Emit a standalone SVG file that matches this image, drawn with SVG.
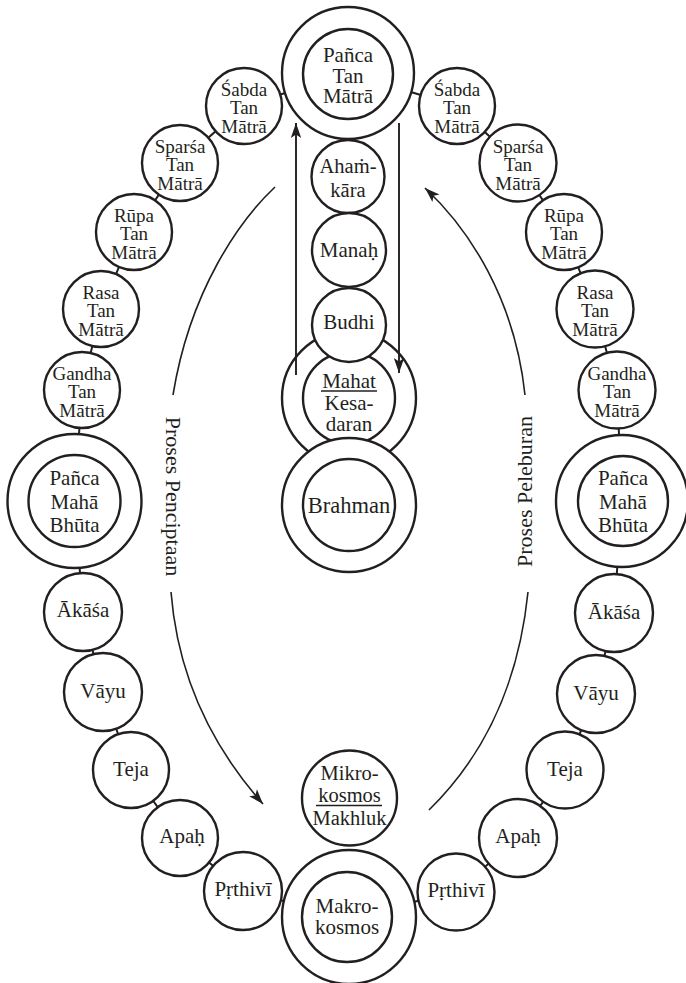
<svg xmlns="http://www.w3.org/2000/svg" width="686" height="983" viewBox="0 0 686 983">
<defs>
<style>
.c{fill:#fff;stroke:#231f20;stroke-width:2.4}
.t{font-family:"Liberation Serif","DejaVu Serif",serif;fill:#231f20;text-anchor:middle}
.s{font-size:19px}
.m{font-size:21px}
.lk{stroke:#231f20;stroke-width:2}
.ar{fill:none;stroke:#231f20;stroke-width:1.6}
.vr{fill:none;stroke:#231f20;stroke-width:1.9}
.ul{stroke:#231f20;stroke-width:1.4}
</style>
<marker id="ah" markerUnits="userSpaceOnUse" markerWidth="17" markerHeight="12" viewBox="-16 -6 17 12" refX="0" refY="0" orient="auto">
<path d="M0,0 L-15,-5.2 L-11.5,0 L-15,5.2 Z" fill="#231f20"/>
</marker>
</defs>
<rect width="686" height="983" fill="#fff"/>

<g id="links">
<polyline class="lk" fill="none" points="348,73 244,106 180,163 134,232 101,309 82,390 74.5,501 83,612 103,692 131,770 180,838 243,891 349,917 456,892 518,838 565,770 596,694 614,613 622,501 617,390 595,309 564,232 518,163 457,106 348,73"/>
</g>

<g id="pancaTan"><circle class="c" cx="348" cy="73" r="66"/><circle class="c" cx="348" cy="74" r="45"/>
<text class="t m"><tspan x="348" y="62">Pañca</tspan><tspan x="348" y="82.5">Tan</tspan><tspan x="348" y="103">Mātrā</tspan></text></g>

<g id="sabdaL"><circle class="c" cx="244" cy="106" r="38"/><text class="t s"><tspan x="244" y="95.5">Śabda</tspan><tspan x="244" y="114">Tan</tspan><tspan x="244" y="132.5">Mātrā</tspan></text></g>
<g id="sparsaL"><circle class="c" cx="180" cy="163" r="38"/><text class="t s"><tspan x="180" y="152.5">Sparśa</tspan><tspan x="180" y="171">Tan</tspan><tspan x="180" y="189.5">Mātrā</tspan></text></g>
<g id="rupaL"><circle class="c" cx="134" cy="232" r="38"/><text class="t s"><tspan x="134" y="221.5">Rūpa</tspan><tspan x="134" y="240">Tan</tspan><tspan x="134" y="258.5">Mātrā</tspan></text></g>
<g id="rasaL"><circle class="c" cx="101" cy="309" r="38"/><text class="t s"><tspan x="101" y="298.5">Rasa</tspan><tspan x="101" y="317">Tan</tspan><tspan x="101" y="335.5">Mātrā</tspan></text></g>
<g id="gandhaL"><circle class="c" cx="82" cy="390" r="38"/><text class="t s"><tspan x="82" y="379.5">Gandha</tspan><tspan x="82" y="398">Tan</tspan><tspan x="82" y="416.5">Mātrā</tspan></text></g>
<g id="pancaMahaL"><circle class="c" cx="74.5" cy="501" r="67"/><circle class="c" cx="74.5" cy="501" r="46"/>
<text class="t m"><tspan x="74.5" y="485">Pañca</tspan><tspan x="74.5" y="508.5">Mahā</tspan><tspan x="74.5" y="532">Bhūta</tspan></text></g>
<g id="akasaL"><circle class="c" cx="83" cy="612" r="39"/><text class="t m" x="83" y="617">Ākāśa</text></g>
<g id="vayuL"><circle class="c" cx="103" cy="692" r="39"/><text class="t m" x="103" y="698">Vāyu</text></g>
<g id="tejaL"><circle class="c" cx="131" cy="770" r="38"/><text class="t m" x="131" y="775.5">Teja</text></g>
<g id="apahL"><circle class="c" cx="180" cy="838" r="38"/><text class="t m" x="182" y="843">Apaḥ</text></g>
<g id="prthiviL"><circle class="c" cx="243" cy="891" r="39"/><text class="t m" x="243" y="896">Pṛthivī</text></g>

<g id="sabdaR"><circle class="c" cx="457" cy="106" r="38"/><text class="t s"><tspan x="457" y="95.5">Śabda</tspan><tspan x="457" y="114">Tan</tspan><tspan x="457" y="132.5">Mātrā</tspan></text></g>
<g id="sparsaR"><circle class="c" cx="518" cy="163" r="38.5"/><text class="t s"><tspan x="518" y="152.5">Sparśa</tspan><tspan x="518" y="171">Tan</tspan><tspan x="518" y="189.5">Mātrā</tspan></text></g>
<g id="rupaR"><circle class="c" cx="564" cy="232" r="38"/><text class="t s"><tspan x="564" y="221.5">Rūpa</tspan><tspan x="564" y="240">Tan</tspan><tspan x="564" y="258.5">Mātrā</tspan></text></g>
<g id="rasaR"><circle class="c" cx="595" cy="309" r="38.5"/><text class="t s"><tspan x="595" y="298.5">Rasa</tspan><tspan x="595" y="317">Tan</tspan><tspan x="595" y="335.5">Mātrā</tspan></text></g>
<g id="gandhaR"><circle class="c" cx="617" cy="390" r="38.5"/><text class="t s"><tspan x="617" y="379.5">Gandha</tspan><tspan x="617" y="398">Tan</tspan><tspan x="617" y="416.5">Mātrā</tspan></text></g>
<g id="pancaMahaR"><circle class="c" cx="622" cy="501" r="66"/><circle class="c" cx="623" cy="501" r="45"/>
<text class="t m"><tspan x="623" y="485">Pañca</tspan><tspan x="623" y="508.5">Mahā</tspan><tspan x="623" y="532">Bhūta</tspan></text></g>
<g id="akasaR"><circle class="c" cx="614" cy="613" r="39"/><text class="t m" x="614" y="618.5">Ākāśa</text></g>
<g id="vayuR"><circle class="c" cx="596" cy="694" r="39"/><text class="t m" x="596" y="699.5">Vāyu</text></g>
<g id="tejaR"><circle class="c" cx="565" cy="770" r="38.5"/><text class="t m" x="565" y="775.5">Teja</text></g>
<g id="apahR"><circle class="c" cx="518" cy="838" r="39"/><text class="t m" x="518" y="843">Apaḥ</text></g>
<g id="prthiviR"><circle class="c" cx="456" cy="892" r="38.5"/><text class="t m" x="456" y="897">Pṛthivī</text></g>

<g id="mahat"><circle class="c" cx="349" cy="398" r="67"/><circle class="c" cx="349" cy="398" r="46"/>
<text class="t m"><tspan x="349" y="387.5">Mahat</tspan><tspan x="349" y="409.5">Kesa-</tspan><tspan x="349" y="431">daran</tspan></text>
<line class="ul" x1="321" y1="391" x2="377" y2="391"/></g>
<g id="brahman"><circle class="c" cx="349" cy="505" r="67"/><circle class="c" cx="349" cy="505" r="46"/><text class="t" style="font-size:22.5px" x="349" y="512.5">Brahman</text></g>
<g id="ahamkara"><circle class="c" cx="348" cy="176.5" r="36.5"/><text class="t" style="font-size:20.5px"><tspan x="348" y="173">Ahaṁ-</tspan><tspan x="348" y="197">kāra</tspan></text></g>
<g id="manah"><circle class="c" cx="349" cy="250" r="37"/><text class="t m" x="349" y="256.5">Manaḥ</text></g>
<g id="budhi"><circle class="c" cx="349" cy="325" r="37"/><text class="t m" x="349" y="329">Budhi</text></g>

<g id="mikrokosmos"><circle class="c" cx="349.5" cy="798" r="47.5"/>
<text class="t" style="font-size:20.5px"><tspan x="349.5" y="780">Mikro-</tspan><tspan x="349.5" y="801.5">kosmos</tspan><tspan x="349.5" y="825">Makhluk</tspan></text>
<line class="ul" x1="316" y1="805.5" x2="382" y2="805.5"/></g>
<g id="makrokosmos"><circle class="c" cx="349" cy="917" r="67"/><circle class="c" cx="347" cy="917" r="45"/>
<text class="t m"><tspan x="347" y="913">Makro-</tspan><tspan x="347" y="933.5">kosmos</tspan></text></g>

<g id="arrows">
<line class="vr" x1="296" y1="375" x2="296" y2="123" marker-end="url(#ah)"/>
<line class="vr" x1="399" y1="123" x2="399" y2="373" marker-end="url(#ah)"/>
<path class="ar" d="M275,187 C240,220 190,290 173,395"/>
<path class="ar" d="M171,592 C178,680 215,750 263,804" marker-end="url(#ah)"/>
<path class="ar" d="M429,810 C480,760 518,690 528,592"/>
<path class="ar" d="M525,395 C515,300 470,230 425,188" marker-end="url(#ah)"/>
</g>

<g id="labels">
<text class="t" style="font-size:22px" transform="translate(166,496.5) rotate(90)" x="0" y="0">Proses Penciptaan</text>
<text class="t" style="font-size:22px" transform="translate(532,491.5) rotate(-90)" x="0" y="0">Proses Peleburan</text>
</g>
</svg>
